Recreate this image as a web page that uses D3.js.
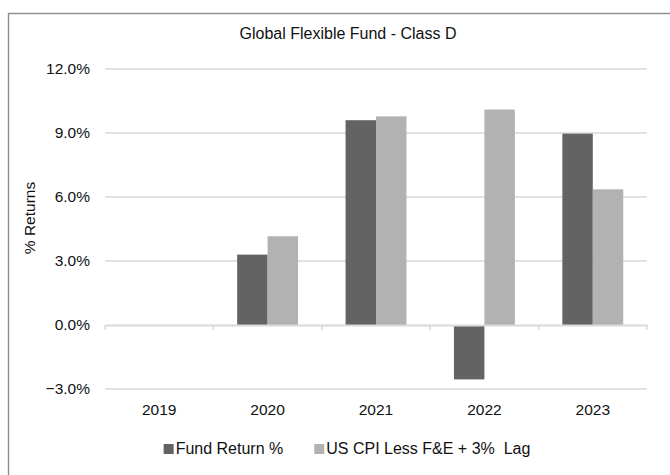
<!DOCTYPE html>
<html>
<head>
<meta charset="utf-8">
<script src="https://cdn.jsdelivr.net/npm/d3@7"></script>
<style>
  body { margin: 0; background: #fff; }
  svg { display: block; font-family: "Liberation Sans", Arial, sans-serif; }
  text { fill: #111; white-space: pre; }
</style>
</head>
<body>
<div id="vis"></div>
<script>
const FRAME_WIDTH = 670;
const FRAME_HEIGHT = 475;
const MARGINS = {left: 105, right: 23, top: 69, bottom: 86};

// data
const years = ["2019", "2020", "2021", "2022", "2023"];
const fundReturn = [null, 3.30, 9.60, -2.55, 8.97];
const cpiLag = [null, 4.16, 9.78, 10.10, 6.36];
const seriesNames = ["Fund Return %", "US CPI Less F&E + 3%  Lag"];
const seriesColors = ["#636363", "#b2b2b2"];
const yTicks = [-3, 0, 3, 6, 9, 12];

const VIS_WIDTH = FRAME_WIDTH - MARGINS.left - MARGINS.right;
const VIS_HEIGHT = FRAME_HEIGHT - MARGINS.top - MARGINS.bottom;

const rows = years.map((y, i) => ({year: y, values: [fundReturn[i], cpiLag[i]]}));

const svg = d3.select("#vis")
  .append("svg")
    .attr("width", FRAME_WIDTH)
    .attr("height", FRAME_HEIGHT);

// chart border (cropped at right/bottom)
svg.append("rect")
  .attr("x", 8.5).attr("y", 13.5)
  .attr("width", 700).attr("height", 500)
  .attr("fill", "none")
  .attr("stroke", "#8a8a8a")
  .attr("stroke-width", 1.4);

const X0 = d3.scaleBand()
  .domain(years)
  .range([MARGINS.left, MARGINS.left + VIS_WIDTH])
  .padding(0);

const X1 = d3.scaleBand()
  .domain([0, 1])
  .range([0, X0.bandwidth()])
  .paddingInner(0)
  .paddingOuter(0.78);

const Y = d3.scaleLinear()
  .domain([-3, 12])
  .range([MARGINS.top + VIS_HEIGHT, MARGINS.top]);

// gridlines
svg.append("g")
  .selectAll("line")
  .data(yTicks.filter(d => d !== 0))
  .enter().append("line")
    .attr("x1", MARGINS.left).attr("x2", MARGINS.left + VIS_WIDTH)
    .attr("y1", d => Y(d)).attr("y2", d => Y(d))
    .attr("stroke", "#d9d9d9")
    .attr("stroke-width", 1.5);

// y axis labels
const yAxis = d3.axisLeft(Y)
  .tickValues(yTicks)
  .tickFormat(d => d3.format(".1f")(d) + "%")
  .tickSize(0)
  .tickPadding(15);

svg.append("g")
  .attr("transform", `translate(${MARGINS.left},0)`)
  .call(yAxis)
  .call(g => g.select(".domain").remove())
  .call(g => g.selectAll("text")
    .attr("font-size", 15.5)
    .attr("font-family", "Liberation Sans, Arial, sans-serif")
    .attr("fill", "#111"));

// bars
svg.append("g")
  .selectAll("g")
  .data(rows)
  .enter().append("g")
    .attr("transform", d => `translate(${X0(d.year)},0)`)
  .selectAll("rect")
  .data(d => d.values.map((v, i) => ({i: i, v: v})).filter(d => d.v !== null))
  .enter().append("rect")
    .attr("x", d => X1(d.i))
    .attr("width", X1.bandwidth())
    .attr("y", d => Y(Math.max(0, d.v)))
    .attr("height", d => Math.abs(Y(d.v) - Y(0)))
    .attr("fill", d => seriesColors[d.i]);

// zero axis line with category ticks
const xAxis = d3.axisBottom(X0)
  .tickSize(0)
  .tickFormat("");

svg.append("g")
  .attr("transform", `translate(0,${Y(0)})`)
  .call(xAxis)
  .call(g => g.select(".domain")
    .attr("stroke", "#d9d9d9")
    .attr("stroke-width", 2))
  .call(g => g.selectAll(".tick").remove());

svg.append("g")
  .selectAll("line")
  .data(years.concat(["end"]))
  .enter().append("line")
    .attr("x1", (d, i) => MARGINS.left + i * X0.step())
    .attr("x2", (d, i) => MARGINS.left + i * X0.step())
    .attr("y1", Y(0))
    .attr("y2", Y(0) + 5)
    .attr("stroke", "#d9d9d9")
    .attr("stroke-width", 1.5);

// year labels (low position)
svg.append("g")
  .selectAll("text")
  .data(years)
  .enter().append("text")
    .attr("x", d => X0(d) + X0.bandwidth() / 2)
    .attr("y", 415)
    .attr("text-anchor", "middle")
    .attr("font-size", 15.5)
    .text(d => d);

// title
svg.append("text")
  .attr("x", 348)
  .attr("y", 39)
  .attr("text-anchor", "middle")
  .attr("font-size", 16)
  .text("Global Flexible Fund - Class D");

// y title
svg.append("text")
  .attr("transform", "translate(35,218) rotate(-90)")
  .attr("text-anchor", "middle")
  .attr("font-size", 15.5)
  .text("% Returns");

// legend
const legend = svg.append("g");
let lx = 0;
seriesNames.forEach((name, i) => {
  const item = legend.append("g").attr("transform", `translate(${lx},0)`);
  item.append("rect")
    .attr("x", 0).attr("y", -10)
    .attr("width", 10).attr("height", 10)
    .attr("fill", seriesColors[i]);
  const t = item.append("text")
    .attr("x", 12).attr("y", 0)
    .attr("font-size", 16)
    .text(name);
  lx += 12 + t.node().getComputedTextLength() + 31;
});
const legendWidth = lx - 31;
legend.attr("transform", `translate(${347 - legendWidth / 2},454)`);
</script>
</body>
</html>
